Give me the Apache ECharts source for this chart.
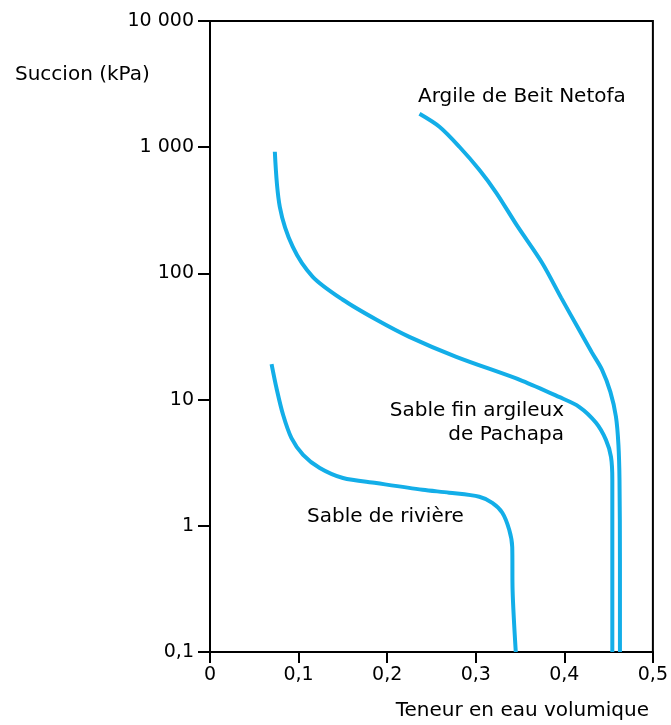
<!DOCTYPE html>
<html>
<head>
<meta charset="utf-8">
<script src="https://cdn.jsdelivr.net/npm/echarts@6/dist/echarts.min.js"></script>
<style>html,body{margin:0;padding:0;background:#fff}#c{width:671px;height:725px}</style>
</head>
<body>
<div id="c"></div>
<script>
var xTicks = [0, 0.1, 0.2, 0.3, 0.4, 0.5];
var yTicks = [0.1, 1, 10, 100, 1000, 10000];

var argileX = [0.2365, 0.259, 0.2815, 0.304, 0.3232, 0.3465, 0.375, 0.3965, 0.4167, 0.4313, 0.4426, 0.4520, 0.4583, 0.4611, 0.4623, 0.4628, 0.4628];
var argileY = [1840, 1452, 1008, 662, 435, 240, 121, 64, 35.7, 23.5, 17.2, 11.5, 7.31, 4.38, 2.31, 0.538, 0.1];

var pachapaX = [0.0732, 0.0788, 0.0935, 0.116, 0.150, 0.188, 0.225, 0.278, 0.3525, 0.394, 0.4167, 0.4358, 0.447, 0.4527, 0.4542, 0.4542, 0.4542];
var pachapaY = [920, 337, 162, 94, 61.8, 42.9, 31.4, 21.8, 14.1, 10.5, 8.77, 6.55, 4.80, 3.52, 2.31, 0.538, 0.1];

var riviereX = [0.0695, 0.0751, 0.0825, 0.0920, 0.1051, 0.1239, 0.1501, 0.1877, 0.240, 0.270, 0.304, 0.3187, 0.330, 0.3378, 0.3412, 0.3416, 0.3452];
var riviereY = [19.1, 12.3, 7.58, 4.95, 3.65, 2.87, 2.39, 2.18, 1.93, 1.83, 1.70, 1.52, 1.27, 0.93, 0.68, 0.311, 0.1];

function pairs(xs, ys) { return xs.map(function (x, i) { return [x, ys[i]]; }); }

var font = '"DejaVu Sans", sans-serif';
var blue = '#13AEE8';
var lineStyle = { color: blue, width: 4 };

var chart = echarts.init(document.getElementById('c'), null, { renderer: 'canvas' });
function fmtY(v) {
  if (Math.abs(v - 0.1) < 1e-9) return '0,1';
  var s = String(Math.round(v));
  return s.replace(/\B(?=(\d{3})+(?!\d))/g, ' ');
}
chart.setOption({
  animation: false,
  grid: { left: 210, right: 17, top: 21, bottom: 73, show: true, borderColor: '#000', borderWidth: 2, backgroundColor: 'transparent' },
  xAxis: {
    type: 'value', min: xTicks[0], max: xTicks[xTicks.length - 1], interval: 0.1,
    axisLine: { lineStyle: { color: '#000', width: 2 } },
    axisTick: { show: true, length: 11, lineStyle: { color: '#000', width: 2 } },
    splitLine: { show: false },
    axisLabel: { color: '#000', fontSize: 19, fontFamily: font, margin: 14, formatter: function (v) { return String(+v.toFixed(1)).replace('.', ','); } }
  },
  yAxis: {
    type: 'log', logBase: 10, min: yTicks[0], max: yTicks[yTicks.length - 1],
    axisLine: { show: true, lineStyle: { color: '#000', width: 2 } },
    axisTick: { show: true, length: 12, lineStyle: { color: '#000', width: 2 } },
    splitLine: { show: false },
    axisLabel: { color: '#000', fontSize: 19, fontFamily: font, margin: 16, formatter: fmtY }
  },
  series: [
    { type: 'line', data: pairs(argileX, argileY), smooth: 0.3, symbol: 'none', lineStyle: lineStyle },
    { type: 'line', data: pairs(pachapaX, pachapaY), smooth: 0.3, symbol: 'none', lineStyle: lineStyle },
    { type: 'line', data: pairs(riviereX, riviereY), smooth: 0.3, symbol: 'none', lineStyle: lineStyle }
  ],
  graphic: [
    { type: 'text', left: 15, top: 65, style: { text: 'Succion (kPa)', font: '20px ' + font, fill: '#000' } },
    { type: 'text', right: 22, top: 701, style: { text: 'Teneur en eau volumique', font: '20px ' + font, fill: '#000' } },
    { type: 'text', left: 418, top: 87, style: { text: 'Argile de Beit Netofa', font: '20px ' + font, fill: '#000' } },
    { type: 'text', right: 107, top: 401, style: { text: 'Sable fin argileux', font: '20px ' + font, fill: '#000', textAlign: 'right' } },
    { type: 'text', right: 107, top: 425, style: { text: 'de Pachapa', font: '20px ' + font, fill: '#000', textAlign: 'right' } },
    { type: 'text', left: 307, top: 507, style: { text: 'Sable de rivière', font: '20px ' + font, fill: '#000' } }
  ]
});
</script>
</body>
</html>
